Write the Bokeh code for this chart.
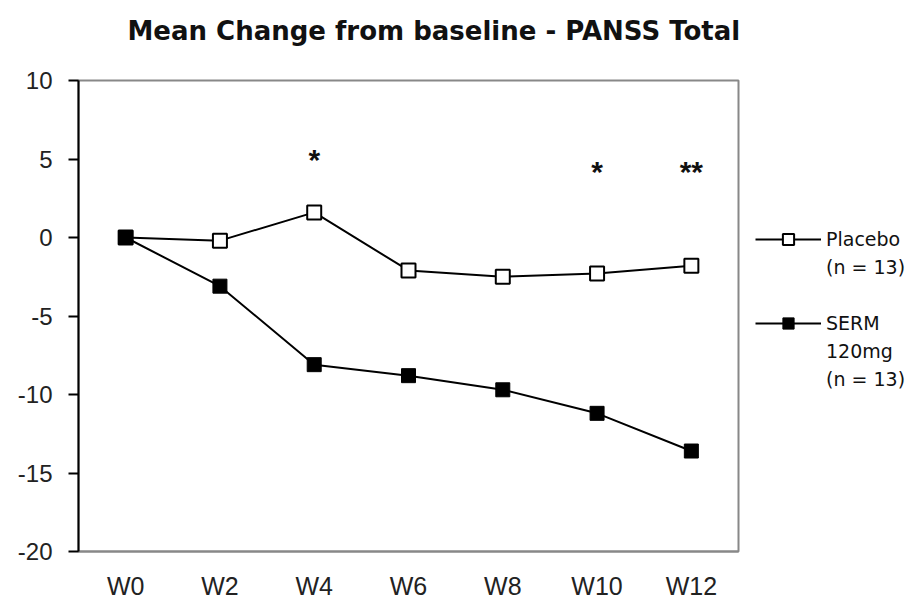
from bokeh.plotting import figure
from bokeh.models import FactorRange, Range1d, Legend, LegendItem, FixedTicker, Title
from bokeh.embed import file_html
from bokeh.resources import INLINE

# Visits and mean change from baseline in PANSS total score
weeks = ["W0", "W2", "W4", "W6", "W8", "W10", "W12"]
placebo = [0.0, -0.2, 1.6, -2.1, -2.5, -2.3, -1.8]
serm = [0.0, -3.1, -8.1, -8.8, -9.7, -11.2, -13.6]

# Significance markers above selected visits
sig_weeks = ["W4", "W10", "W12"]
sig_marks = ["*", "*", "**"]
sig_y = [5.0, 4.2, 4.2]

y_ticks = [-20, -15, -10, -5, 0, 5, 10]

p = figure(
    width=918, height=608,
    x_range=FactorRange(*weeks),
    y_range=Range1d(-20, 10),
    output_backend="svg", toolbar_location=None,
    frame_width=660, frame_height=471,
    min_border_left=78, min_border_right=180,
    min_border_top=80, min_border_bottom=57,
)
p.title.text = ""
p.title.standoff = 0

# a small blank title keeps the heading clear of the frame
p.add_layout(Title(text=" ", text_font_size="10px", standoff=5), "above")
p.add_layout(Title(
    text="Mean Change from baseline - PANSS Total",
    align="left", vertical_align="top", offset=49, standoff=29,
    text_font="DejaVu Sans", text_font_style="bold",
    text_font_size="26px", text_color="#111111",
), "above")

p.background_fill_color = "white"
p.border_fill_color = "white"
p.outline_line_color = "#888888"
p.outline_line_width = 2
p.xgrid.visible = False
p.ygrid.visible = False

# y axis: black line with outward ticks, plain hyphen minus signs
p.yaxis.ticker = FixedTicker(ticks=y_ticks)
p.yaxis.major_label_overrides = {t: str(t) for t in y_ticks}
p.yaxis.axis_line_color = "black"
p.yaxis.axis_line_width = 2
p.yaxis.major_tick_line_color = "black"
p.yaxis.major_tick_line_width = 2
p.yaxis.major_tick_out = 10
p.yaxis.major_tick_in = 0
p.yaxis.minor_tick_line_color = None
p.yaxis.major_label_text_font = "Liberation Sans"
p.yaxis.major_label_text_font_size = "24px"
p.yaxis.major_label_text_color = "#222222"
p.yaxis.major_label_standoff = 16

# x axis: labels only
p.xaxis.axis_line_color = "#888888"
p.xaxis.axis_line_width = 2
p.xaxis.major_tick_line_color = None
p.xaxis.minor_tick_line_color = None
p.xaxis.major_label_text_font = "Liberation Sans"
p.xaxis.major_label_text_font_size = "25px"
p.xaxis.major_label_text_color = "#222222"
p.xaxis.major_label_standoff = 14

pl_line = p.line(weeks, placebo, line_color="black", line_width=2)
pl_pts = p.scatter(weeks, placebo, marker="square", size=14,
                   fill_color="white", line_color="black", line_width=2)
se_line = p.line(weeks, serm, line_color="black", line_width=2)
se_pts = p.scatter(weeks, serm, marker="square", size=14,
                   fill_color="black", line_color="black", line_width=1)

p.text(sig_weeks, sig_y, text=sig_marks, text_align="center",
       text_baseline="middle", text_font_size="30px", text_font_style="bold",
       text_color="#111111")

legend = Legend(
    items=[
        LegendItem(label="Placebo", renderers=[pl_line, pl_pts]),
        LegendItem(label="(n = 13)", renderers=[]),
        LegendItem(label=" ", renderers=[]),
        LegendItem(label="SERM", renderers=[se_line, se_pts]),
        LegendItem(label="120mg", renderers=[]),
        LegendItem(label="(n = 13)", renderers=[]),
    ],
    location=(17, 158),
    glyph_width=66, glyph_height=28, label_height=28,
    label_text_font="DejaVu Sans", label_text_font_size="19px",
    label_text_color="#111111", label_standoff=5,
    spacing=0, padding=0, margin=0,
    border_line_color=None, background_fill_alpha=0,
)
p.add_layout(legend, "right")

with open("out.html", "w") as f:
    f.write(file_html(p, INLINE))
